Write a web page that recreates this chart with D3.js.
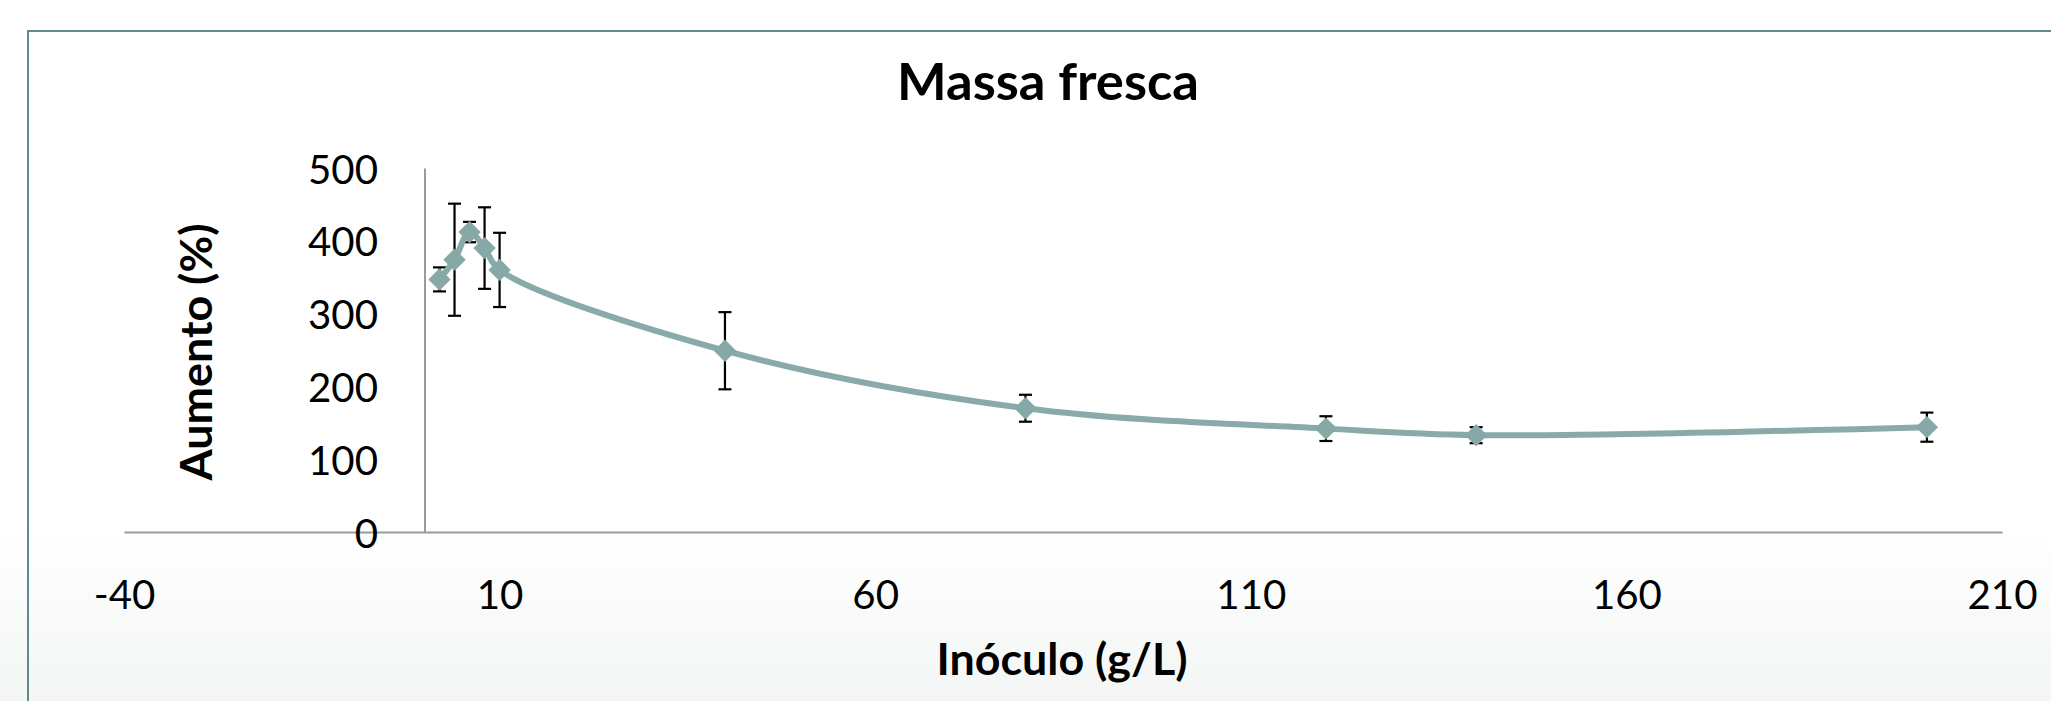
<!DOCTYPE html>
<html>
<head>
<meta charset="utf-8">
<script src="https://cdn.jsdelivr.net/npm/d3@7"></script>
<style>
  html, body { margin: 0; padding: 0; background: #ffffff; }
  svg { display: block; }
  text { font-family: Lato, "Open Sans", sans-serif; fill: #000; }
</style>
</head>
<body>
<svg id="chart" width="2051" height="701"></svg>
<script>
// ---- data ----
const inoculo = [2, 4, 6, 8, 10, 40, 80, 120, 140, 200];          // g/L
const aumento = [347, 374, 412, 390, 360, 249, 170, 142, 133, 144]; // %
const erro    = [16.5, 77, 14, 56, 51, 53, 18.5, 17, 11, 20];
const xTicks  = [-40, 10, 60, 110, 160, 210];
const yTicks  = [0, 100, 200, 300, 400, 500];
const titleText = "Massa fresca";
const xTitleText = "Inóculo (g/L)";
const yTitleText = "Aumento (%)";

const svg = d3.select("#chart");
const W = 2051, H = 701;

// background with faint gradient at the bottom
const defs = svg.append("defs");
const grad = defs.append("linearGradient").attr("id", "bg").attr("x1", 0).attr("y1", 0).attr("x2", 0).attr("y2", 1);
grad.append("stop").attr("offset", "0.75").attr("stop-color", "#ffffff");
grad.append("stop").attr("offset", "1").attr("stop-color", "#f3f6f4");
svg.append("rect").attr("width", W).attr("height", H).attr("fill", "url(#bg)");

// chart frame (extends beyond the viewport on the right and bottom)
svg.append("rect")
  .attr("x", 28).attr("y", 31).attr("width", W + 50).attr("height", H + 50)
  .attr("fill", "none").attr("stroke", "#5f8b8d").attr("stroke-width", 2);

const x = d3.scaleLinear().domain([-40, 210]).range([124, 2002]);
const y = d3.scaleLinear().domain([0, 500]).range([532, 168]);

// helper to fit a font size to a target width
function fit(sel, target) {
  const base = 40;
  sel.style("font-size", base + "px");
  const w = sel.node().getComputedTextLength();
  sel.style("font-size", (base * target / w) + "px");
}

const fmt = d => String(d); // plain hyphen for negatives

// x axis
const gx = svg.append("g").attr("transform", `translate(0,${y(0)})`)
  .call(d3.axisBottom(x).tickValues(xTicks).tickSize(0).tickSizeOuter(0).tickFormat(fmt));
gx.select(".domain").attr("stroke", "#9a9a9a").attr("stroke-width", 2);
gx.selectAll("text").attr("y", 0).attr("dy", 77).attr("fill", "#000").attr("font-family", null);

// y axis at x = 0
const gy = svg.append("g").attr("transform", `translate(${x(0)},0)`)
  .call(d3.axisLeft(y).tickValues(yTicks).tickSize(0).tickSizeOuter(0).tickFormat(fmt));
gy.select(".domain").attr("stroke", "#9a9a9a").attr("stroke-width", 2);
gy.selectAll("text").attr("x", -(x(0) - 378)).attr("dy", 15).attr("fill", "#000").attr("font-family", null);

// fit tick font size using "500" width ~70px
const probe = svg.append("text").text("500");
fit(probe, 70);
const tickFs = probe.style("font-size");
probe.remove();
svg.selectAll(".tick text").style("font-size", tickFs);

// error bars
const eb = svg.append("g").attr("stroke", "#000").attr("stroke-width", 2.2).attr("fill", "none");
inoculo.forEach((xv, i) => {
  const cx = x(xv), top = y(aumento[i] + erro[i]), bot = y(aumento[i] - erro[i]);
  eb.append("line").attr("x1", cx).attr("x2", cx).attr("y1", top).attr("y2", bot);
  eb.append("line").attr("x1", cx - 6.5).attr("x2", cx + 6.5).attr("y1", top).attr("y2", top);
  eb.append("line").attr("x1", cx - 6.5).attr("x2", cx + 6.5).attr("y1", bot).attr("y2", bot);
});

// smoothed line
const pts = inoculo.map((xv, i) => [xv, aumento[i]]);
const line = d3.line().x(d => x(d[0])).y(d => y(d[1])).curve(d3.curveCatmullRom.alpha(0.5));
svg.append("path").attr("d", line(pts)).attr("fill", "none")
  .attr("stroke", "#88aaa9").attr("stroke-width", 6).attr("stroke-linejoin", "round");

// diamond markers
const diamond = d3.symbol().type(d3.symbolSquare).size(250);
svg.append("g").selectAll("path").data(pts).join("path")
  .attr("d", diamond)
  .attr("transform", d => `translate(${x(d[0])},${y(d[1])}) rotate(45)`)
  .attr("fill", "#86a9a7");

// titles
const t = svg.append("text").text(titleText).attr("x", 1048).attr("y", 100)
  .attr("text-anchor", "middle").style("font-weight", "bold");
fit(t, 302);

const xt = svg.append("text").text(xTitleText).attr("x", 1062).attr("y", 675)
  .attr("text-anchor", "middle").style("font-weight", "bold");
fit(xt, 251);

const yt = svg.append("text").text(yTitleText)
  .attr("transform", "translate(212,352) rotate(-90)")
  .attr("text-anchor", "middle").style("font-weight", "bold");
fit(yt, 257);
</script>
</body>
</html>
